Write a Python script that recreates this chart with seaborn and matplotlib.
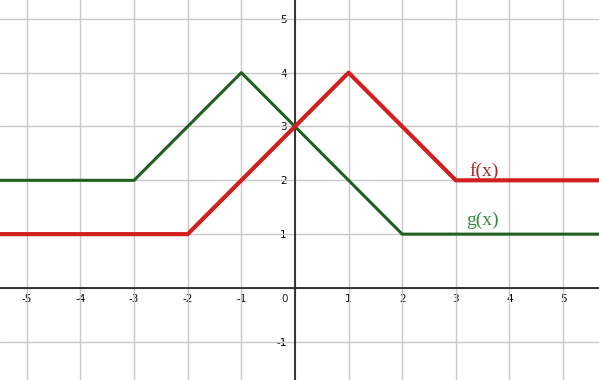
import matplotlib
matplotlib.use("Agg")
import matplotlib.pyplot as plt
import seaborn as sns
import pandas as pd

# Data
f_x = [-5.6, -2, 1, 3, 5.8]
f_y = [1, 1, 4, 2, 2]
g_x = [-5.6, -3, -1, 2, 5.8]
g_y = [2, 2, 4, 1, 1]
x_ticks = [-5, -4, -3, -2, -1, 1, 2, 3, 4, 5]
y_ticks = [-1, 1, 2, 3, 4, 5]
labels = {"f": "f(x)", "g": "g(x)"}

sns.set_style("white")
plt.rcParams["axes.unicode_minus"] = False
plt.rcParams["font.family"] = ["DejaVu Sans"]

fig = plt.figure(figsize=(5.99, 3.80), dpi=100)
ax = fig.add_axes([0, 0, 1, 1])

df_f = pd.DataFrame({"x": f_x, "y": f_y})
df_g = pd.DataFrame({"x": g_x, "y": g_y})

sns.lineplot(data=df_g, x="x", y="y", ax=ax, color="#1f5f1f", linewidth=2.2,
             sort=False, zorder=3)
sns.lineplot(data=df_f, x="x", y="y", ax=ax, color="#d21f1f", linewidth=3.0,
             sort=False, zorder=4)

ax.set_xlim(-5.50, 5.67)
ax.set_ylim(-1.71, 5.35)

# grid
for v in range(-5, 6):
    ax.axvline(v, color="#c8c8c8", lw=1.0, zorder=1)
for v in range(-1, 6):
    ax.axhline(v, color="#c8c8c8", lw=1.0, zorder=1)

# axes through origin
for s in ["top", "right"]:
    ax.spines[s].set_visible(False)
ax.spines["left"].set_position(("data", 0))
ax.spines["bottom"].set_position(("data", 0))
ax.spines["left"].set_linewidth(1.3)
ax.spines["bottom"].set_linewidth(1.3)
ax.spines["left"].set_zorder(2)
ax.spines["bottom"].set_zorder(2)

ax.set_xticks(x_ticks)
ax.set_yticks(y_ticks)
ax.set_xticklabels([str(t) for t in x_ticks])
ax.set_yticklabels([str(t) for t in y_ticks])
ax.tick_params(axis="both", length=0, labelsize=7.5, colors="black")
ax.tick_params(axis="x", pad=4)
ax.tick_params(axis="y", pad=6)
ax.set_xlabel("")
ax.set_ylabel("")
ax.text(-0.19, -0.2, "0", fontsize=7.5, ha="center", va="center")

ax.text(3.52, 2.18, labels["f"], color="#a52a2a", fontsize=14,
        family="Liberation Serif", ha="center", va="center")
ax.text(3.5, 1.25, labels["g"], color="#2e8b3a", fontsize=14,
        family="Liberation Serif", ha="center", va="center")

fig.savefig("out.png", dpi=100)
